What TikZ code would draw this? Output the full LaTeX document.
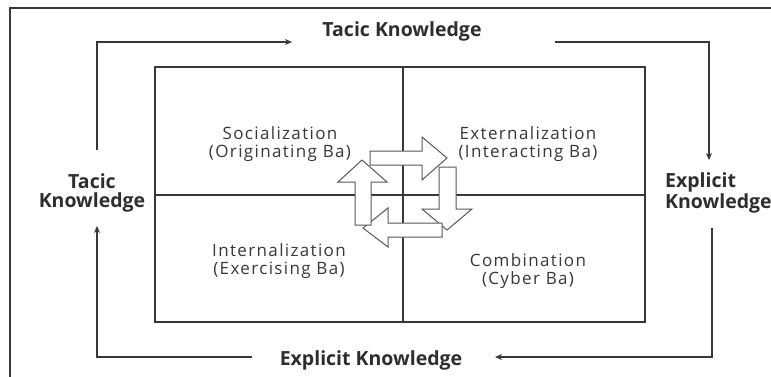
\documentclass[tikz,border=0pt]{standalone}
\usepackage{fontspec}
\setmainfont{Open Sans}
\newfontfamily\quadfont[LetterSpace=8]{Open Sans}
\usetikzlibrary{arrows.meta}
\begin{document}
\begin{tikzpicture}[x=1pt,y=-1pt,
  ln/.style={draw=black!78, line width=1.1pt},
  flow/.style={ln, -{Stealth[length=7pt,width=6pt]}},
  big/.style={font=\bfseries\fontsize{19.5}{19}\selectfont, text=black!82, align=center, inner sep=0pt},
  quad/.style={font=\quadfont\fontsize{17}{18}\selectfont, text=black!78, align=center, inner sep=0pt},
  fat/.style={draw=black!65, line width=1pt, fill=white, line join=miter}]
\useasboundingbox (0,0) rectangle (771,376);
\fill[white] (0,0) rectangle (771,376);
% outer frame
\draw[ln] (10,380) -- (10,8) -- (775,8);
% inner grid
\coordinate (tl) at (155,67);
\coordinate (br) at (645,322);
\draw[ln] (tl) rectangle (br);
\draw[ln] (403,67) -- (403,322);
\draw[ln] (155,195) -- (645,195);
% quadrant labels
\node[quad] (soc) at (280,144) {Socialization\\(Originating Ba)};
\node[quad] (ext) at (528,144) {Externalization\\(Interacting Ba)};
\node[quad] (int) at (279,261) {Internalization\\(Exercising Ba)};
\node[quad] (com) at (528,271) {Combination\\(Cyber Ba)};
% outer labels
\node[big, anchor=base] (ttop) at (402,36) {Tacic Knowledge};
\node[big] (tleft) at (92,193) {Tacic\\Knowledge};
\node[big, align=left, anchor=west] (eright) at (665,193) {Explicit\\Knowledge};
\node[big, anchor=base] (ebot) at (371,365) {Explicit Knowledge};
% loop connectors
\coordinate (a1) at (97,150);
\coordinate (a2) at (97,42);
\coordinate (a3) at (292,42);
\draw[flow] (a1) -- (a2) -- (a3);
\coordinate (b1) at (555,42);
\coordinate (b2) at (709,42);
\coordinate (b3) at (709,160);
\draw[flow] (b1) -- (b2) -- (b3);
\coordinate (c1) at (712,228);
\coordinate (c2) at (712,357);
\coordinate (c3) at (495,357);
\draw[flow] (c1) -- (c2) -- (c3);
\coordinate (d1) at (252,357);
\coordinate (d2) at (97,357);
\coordinate (d3) at (97,226);
\draw[flow] (d1) -- (d2) -- (d3);
% central cycle arrows
\draw[fat] (370,151) -- (422,151) -- (422,137) -- (447,158) -- (422,180) -- (422,165) -- (370,165) -- cycle;
\draw[fat] (439,167) -- (456,167) -- (456,209) -- (472,209) -- (447,230) -- (422,209) -- (439,209) -- cycle;
\draw[fat] (442,223) -- (442,237) -- (388,237) -- (388,247) -- (363,228) -- (388,208) -- (388,223) -- cycle;
\draw[fat] (355,225) -- (355,182) -- (338,182) -- (362,160) -- (387,182) -- (371,182) -- (371,225) -- cycle;
\end{tikzpicture}
\end{document}
